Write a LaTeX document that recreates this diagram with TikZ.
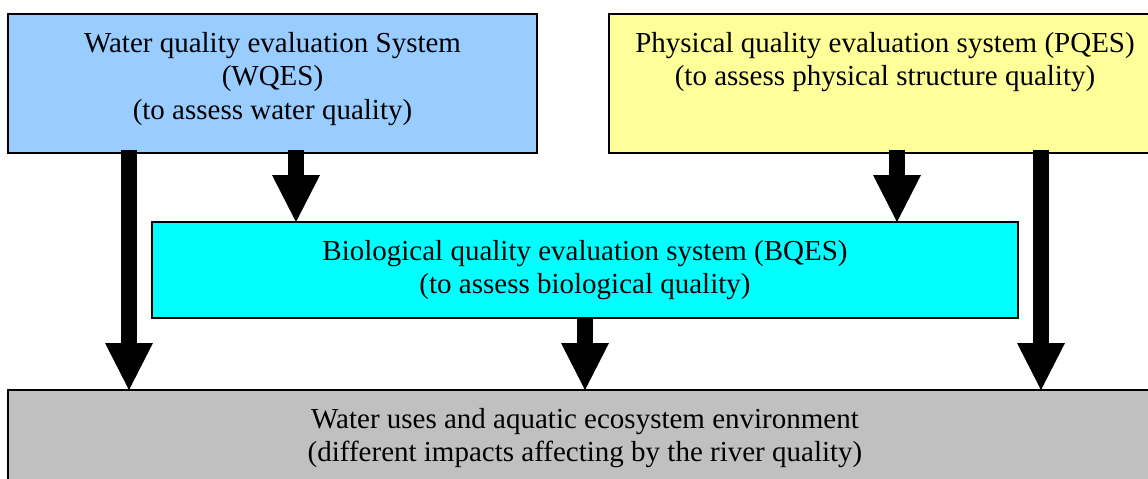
\documentclass[tikz,border=0pt]{standalone}
\usepackage{fontspec}
\setmainfont{Liberation Serif}
\usetikzlibrary{arrows.meta}
\definecolor{wqblue}{HTML}{99CCFF}
\definecolor{pqyellow}{HTML}{FFFF99}
\definecolor{bqcyan}{HTML}{00FFFF}
\definecolor{envgray}{HTML}{C0C0C0}
\begin{document}
\begin{tikzpicture}[x=1pt,y=-1pt,
  box/.style={draw=black, line width=1.5pt, inner sep=0pt, outer sep=0pt, rectangle},
  txt/.style={font=\fontsize{29}{33.5}\selectfont, align=center, inner sep=0pt, anchor=north},
  bigarrow/.style={line width=16pt, -{Triangle[width=48pt,length=47pt,line width=0pt]}}]
\useasboundingbox (0,0) rectangle (1148,479);
% boxes
\node[box, fill=wqblue, minimum width=529pt, minimum height=139pt] (wq) at (272.5,83.5) {};
\node[box, fill=pqyellow, minimum width=552pt, minimum height=139pt] (pq) at (885,83.5) {};
\node[box, fill=bqcyan, minimum width=866pt, minimum height=96pt] (bq) at (585,270) {};
\node[box, fill=envgray, minimum width=1154pt, minimum height=130pt] (env) at (585,455) {};
% texts
\node[txt] (wqt) at (272.5,28) {\rule{0pt}{24pt}Water quality evaluation System\\(WQES)\\(to assess water quality)};
\node[txt] (pqt) at (885,28) {\rule{0pt}{24pt}Physical quality evaluation system (PQES)\\(to assess physical structure quality)};
\node[txt] (bqt) at (585,236) {\rule{0pt}{24pt}Biological quality evaluation system (BQES)\\(to assess biological quality)};
\node[txt] (envt) at (585,404) {\rule{0pt}{24pt}Water uses and aquatic ecosystem environment\\(different impacts affecting by the river quality)};
% arrows
\coordinate (a1) at (129,150);
\coordinate (a2) at (296,150);
\coordinate (a3) at (897,150);
\coordinate (a4) at (1041,150);
\draw[bigarrow] (a1) -- (a1 |- env.north);
\draw[bigarrow] (a2) -- (a2 |- bq.north);
\draw[bigarrow] (a3) -- (a3 |- bq.north);
\draw[bigarrow] (a4) -- (a4 |- env.north);
\draw[bigarrow] (bq.south) -- (env.north);
\end{tikzpicture}
\end{document}
